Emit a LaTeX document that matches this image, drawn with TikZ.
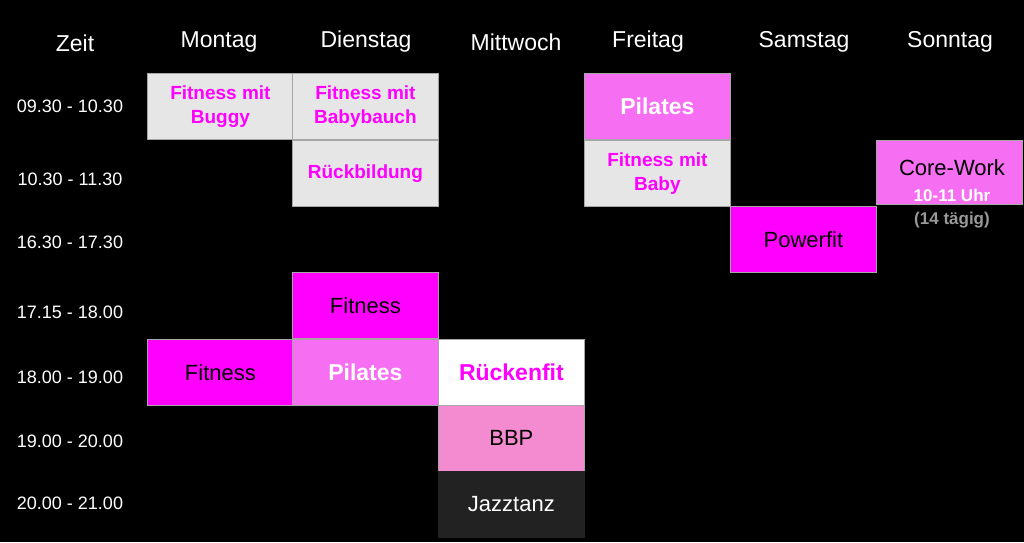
\documentclass[tikz,border=0pt]{standalone}
\usepackage{fontspec}
\setmainfont{Liberation Sans}
\definecolor{cellgray}{HTML}{E6E6E6}
\definecolor{cellpink}{HTML}{F66EF2}
\definecolor{cellmag}{HTML}{FF00FF}
\definecolor{cellrose}{HTML}{F48ACF}
\definecolor{celldark}{HTML}{222222}
\tikzset{
  cell/.style={draw=gray!70,line width=0.8pt,minimum width=146pt,minimum height=66pt,inner sep=0pt,anchor=north west,align=center,font=\fontsize{22}{24}\selectfont},
  hot/.style={text=cellmag,font=\bfseries\fontsize{19}{24}\selectfont},
  head/.style={text=white,font=\fontsize{23}{26}\selectfont},
  zeit/.style={text=white,font=\fontsize{18}{20}\selectfont}
}
\begin{document}
\begin{tikzpicture}[x=1pt,y=-1pt]
\fill[black] (0,0) rectangle (1024,542);
\useasboundingbox (0,0) rectangle (1024,542);
% Kopfzeile
\node[head] (hz) at (75,43) {Zeit};
\foreach \d/\x in {Montag/219,Dienstag/366,Mittwoch/516,Freitag/648,Samstag/804,Sonntag/950}
  \node[head] (h\d) at (\x,42) {\d};
% Zeiten
\foreach \t/\y [count=\i] in {09.30 - 10.30/106,10.30 - 11.30/179,16.30 - 17.30/242,17.15 - 18.00/312,18.00 - 19.00/377,19.00 - 20.00/441,20.00 - 21.00/503}
  \node[zeit] (t\i) at (70,\y) {\t};
% Kurse
\node[cell,fill=cellgray,hot] (mo1) at (147,73) {Fitness mit\\Buggy};
\node[cell,fill=cellgray,hot] (di1) at (292,73) {Fitness mit\\Babybauch};
\node[cell,fill=cellpink,text=white,font=\bfseries\fontsize{23}{26}\selectfont] (fr1) at (584,73) {Pilates};
\node[cell,fill=cellgray,hot] (di2) at (292,140) {Rückbildung};
\node[cell,fill=cellgray,hot] (fr2) at (584,140) {Fitness mit\\Baby};
\node[cell,fill=cellpink,minimum height=64pt] (so2) at (876,140) {};
\node (so2a) at (952,168) {\fontsize{22}{24}\selectfont Core-Work};
\node[text=white,font=\bfseries\fontsize{17}{19}\selectfont] (so2b) at (952,195) {10-11 Uhr};
\node[text=gray!80,font=\bfseries\fontsize{17}{19}\selectfont] (so2c) at (952,220) {(14 tägig)};
\node[cell,fill=cellmag] (sa3) at (730,206) {Powerfit};
\node[cell,fill=cellmag] (di4) at (292,272) {Fitness};
\node[cell,fill=cellmag] (mo5) at (147,339) {Fitness};
\node[cell,fill=cellpink,text=white,font=\bfseries\fontsize{23}{26}\selectfont] (di5) at (292,339) {Pilates};
\node[cell,fill=white,text=cellmag,font=\bfseries\fontsize{23}{26}\selectfont] (mi5) at (438,339) {Rückenfit};
\node[cell,fill=cellrose] (mi6) at (438,405) {BBP};
\node[cell,fill=celldark,draw=celldark,text=white] (mi7) at (438,471) {Jazztanz};
\end{tikzpicture}
\end{document}
